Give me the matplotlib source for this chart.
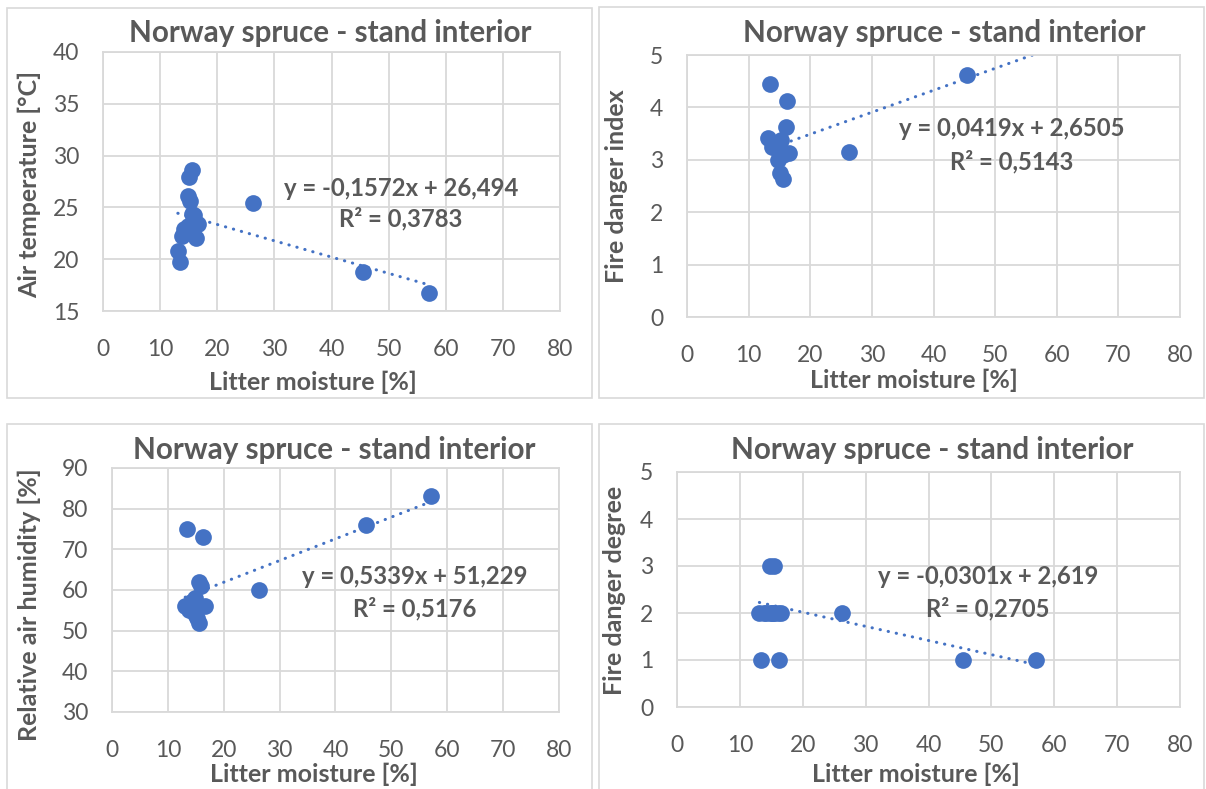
import matplotlib
matplotlib.use("Agg")
import matplotlib.pyplot as plt  # noqa: E402
from matplotlib.patches import Rectangle  # noqa: E402
import numpy as np  # noqa: E402

# ── Data ──────────────────────────────────────────────────────────────────
moisture = [13.1, 13.4, 13.8, 14.2, 14.8, 14.8, 15.1, 15.3,
            15.5, 15.5, 16.0, 16.2, 16.6, 26.3, 45.5, 57.1]
air_temp = [20.8, 19.7, 22.2, 22.9, 26.1, 23.2, 27.9, 25.6,
            28.6, 24.4, 24.3, 22.0, 23.4, 25.4, 18.8, 16.7]
fire_index = [3.42, 4.45, 3.25, 3.30, 3.18, 2.99, 2.74, 3.38,
              2.64, 3.10, 3.62, 4.13, 3.13, 3.15, 4.62, 5.8]
humidity = [56, 75, 55, 57, 58, 54, 55, 53,
            52, 62, 61, 73, 56, 60, 76, 83]
fire_degree = [2, 1, 2, 2, 3, 2, 2, 2,
               3, 2, 2, 1, 2, 2, 1, 1]

# linear trendlines (slope, intercept, R²)
trend_slope = [-0.1572, 0.0419, 0.5339, -0.0301]
trend_intercept = [26.494, 2.6505, 51.229, 2.619]
trend_r2 = [0.3783, 0.5143, 0.5176, 0.2705]

y_series = [air_temp, fire_index, humidity, fire_degree]
y_labels = ["Air temperature [°C]", "Fire danger index",
            "Relative air humidity [%]", "Fire danger degree"]
y_ranges = [(15, 40, 5), (0, 5, 1), (30, 90, 10), (0, 5, 1)]
title = "Norway spruce - stand interior"
x_label = "Litter moisture [%]"

# ── Layout (pixels) ───────────────────────────────────────────────────────
W, H = 1206, 789
TEXT = "#595959"
GRID = "#D9D9D9"
BLUE = "#4472C4"

plt.rcParams["font.family"] = ["Lato", "DejaVu Sans"]

axes_px = [(103, 52, 560, 311), (687, 55, 1180, 317),
           (112, 468, 559, 712), (677, 472, 1180, 707)]
frames_px = [(7, 8, 592, 398), (599, 7, 1204, 398),
             (7, 424, 592, 800), (599, 424, 1204, 800)]
title_px = [(330, 33), (944, 33), (334, 450), (932, 450)]
xlabel_px = [(313, 382), (914, 380), (314, 774), (916, 774)]
ylabel_px = [(29, 184), (617, 186), (29, 605), (615, 590)]
eq_px = [(401, 188, 219), (1012, 128, 162), (415, 577, 609), (988, 577, 609)]


def fx(px):
    return px / W


def fy(py):
    return 1 - py / H


def num(v):
    return str(v).replace(".", ",")


fig = plt.figure(figsize=(W / 100, H / 100), dpi=100)
fig.patch.set_facecolor("white")

for i in range(4):
    # chart frame
    l, t, r, b = frames_px[i]
    fig.patches.append(Rectangle((fx(l), fy(b)), fx(r - l), (b - t) / H,
                                 transform=fig.transFigure, fill=False,
                                 edgecolor=GRID, linewidth=1.2))

    l, t, r, b = axes_px[i]
    ax = fig.add_axes([fx(l), fy(b), fx(r - l), (b - t) / H])
    y0, y1, ystep = y_ranges[i]
    ax.set_xlim(0, 80)
    ax.set_ylim(y0, y1)
    ax.set_xticks(np.arange(0, 81, 10))
    ax.set_yticks(np.arange(y0, y1 + 0.001, ystep))
    ax.grid(True, color=GRID, linewidth=1.3)
    ax.set_axisbelow(True)
    for s in ax.spines.values():
        s.set_color(GRID)
        s.set_linewidth(1.3)
    ax.tick_params(length=0, labelsize=16.5, labelcolor=TEXT)
    ax.tick_params(axis="x", pad=20)
    ax.tick_params(axis="y", pad=17)

    ax.scatter(moisture, y_series[i], s=145, color=BLUE, zorder=3,
               linewidths=0)

    xs = np.array([min(moisture), max(moisture)])
    ax.plot(xs, trend_slope[i] * xs + trend_intercept[i], color=BLUE,
            linewidth=2.2, linestyle=(0, (0.1, 2.6)),
            dash_capstyle="round", zorder=2)

    cx, cy = title_px[i]
    fig.text(fx(cx), fy(cy), title, ha="center", va="center",
             fontsize=21.3, fontweight="bold", color=TEXT)
    cx, cy = xlabel_px[i]
    fig.text(fx(cx), fy(cy), x_label, ha="center", va="center",
             fontsize=18, fontweight="bold", color=TEXT)
    cx, cy = ylabel_px[i]
    fig.text(fx(cx), fy(cy), y_labels[i], ha="center", va="center",
             rotation=90, fontsize=18, fontweight="bold", color=TEXT)

    ex, ey1, ey2 = eq_px[i]
    sign = "+" if trend_intercept[i] >= 0 else "-"
    eq = f"y = {num(trend_slope[i])}x {sign} {num(abs(trend_intercept[i]))}"
    fig.text(fx(ex), fy(ey1), eq, ha="center", va="center",
             fontsize=17.2, fontweight="bold", color=TEXT)
    fig.text(fx(ex), fy(ey2), f"R² = {num(trend_r2[i])}", ha="center",
             va="center", fontsize=17.2, fontweight="bold", color=TEXT)

fig.savefig("out.png", dpi=100)
